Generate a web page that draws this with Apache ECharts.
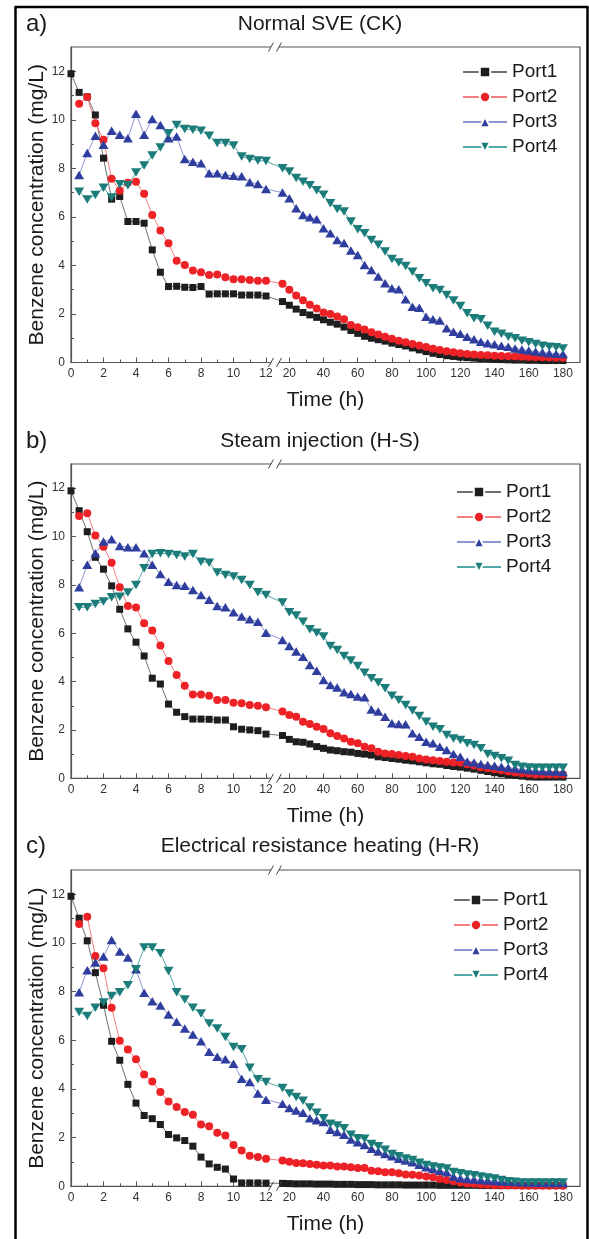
<!DOCTYPE html>
<html>
<head>
<meta charset="utf-8">
<script src="https://cdn.jsdelivr.net/npm/echarts@6/dist/echarts.min.js"></script>
<style>
html,body{margin:0;padding:0;background:#fff;}
#c{width:589px;height:1239px;}
</style>
</head>
<body>
<div id="c"></div>
<script>
// ---------------- data ----------------
const TIME_LEFT = [0,0.5,1,1.5,2,2.5,3,3.5,4,4.5,5,5.5,6,6.5,7,7.5,8,8.5,9,9.5,10,10.5,11,11.5,12];
const TIME_RIGHT = [16,20,24,28,32,36,40,44,48,52,56,60,64,68,72,76,80,84,88,92,96,100,104,108,112,116,120,124,128,132,136,140,144,148,152,156,160,164,168,172,176,180];

const X_MAJOR = [0,2,4,6,8,10,12,20,40,60,80,100,120,140,160,180];
const X_MINOR = [1,3,5,7,9,11,30,50,70,90,110,130,150,170];
const Y_MAJOR = [0,2,4,6,8,10,12];
const Y_MINOR = [1,3,5,7,9,11];

const PORTS = ['Port1','Port2','Port3','Port4'];
const PANEL_LABELS = ['a)','b)','c)'];
const PANEL_TITLES = ['Normal SVE (CK)','Steam injection (H-S)','Electrical resistance heating (H-R)'];
const X_NAME = 'Time (h)';
const Y_NAME = 'Benzene concentration (mg/L)';

// Panel a) Normal SVE (CK)
const A_P1_L = [11.9,11.13,10.95,10.2,8.42,6.73,6.84,5.81,5.81,5.74,4.64,3.72,3.13,3.14,3.10,3.09,3.13,2.82,2.83,2.83,2.83,2.78,2.78,2.78,2.74];
const A_P1_R = [2.51,2.36,2.2,2.06,1.96,1.86,1.76,1.66,1.58,1.46,1.32,1.2,1.08,1.0,0.94,0.88,0.8,0.74,0.68,0.6,0.52,0.45,0.38,0.33,0.28,0.25,0.22,0.2,0.18,0.16,0.15,0.13,0.12,0.11,0.1,0.1,0.09,0.09,0.08,0.08,0.08,0.08];
const A_P2_L = [null,10.66,10.94,9.86,9.18,7.57,7.08,7.41,7.45,6.95,6.08,5.44,4.91,4.19,4.02,3.79,3.72,3.61,3.63,3.51,3.43,3.43,3.40,3.37,3.37];
const A_P2_R = [3.24,3.0,2.76,2.56,2.38,2.22,2.06,2.0,1.9,1.78,1.55,1.45,1.36,1.25,1.15,1.06,0.98,0.9,0.83,0.76,0.7,0.64,0.57,0.52,0.46,0.42,0.38,0.35,0.33,0.31,0.3,0.28,0.27,0.26,0.25,0.24,0.23,0.22,0.22,0.21,0.2,0.2];
const A_P3_L = [null,7.73,8.63,9.34,8.97,9.55,9.38,9.24,10.25,9.38,10.03,9.79,9.24,9.31,8.38,8.27,8.21,7.8,7.8,7.73,7.69,7.67,7.43,7.36,7.15];
const A_P3_R = [7.0,6.77,6.36,6.08,5.99,5.9,5.53,5.33,5.05,4.92,4.61,4.43,4.02,3.81,3.54,3.27,3.06,3.02,2.61,2.3,2.26,1.89,1.78,1.73,1.41,1.27,1.18,1.06,0.96,0.86,0.79,0.75,0.69,0.65,0.58,0.54,0.49,0.45,0.42,0.38,0.36,0.35];
const A_P4_L = [null,7.04,6.72,6.9,7.2,6.8,7.34,7.3,7.83,8.12,8.53,8.86,9.45,9.79,9.62,9.59,9.55,9.34,9.04,9.04,8.94,8.49,8.39,8.32,8.3];
const A_P4_R = [8.0,7.87,7.6,7.45,7.3,7.1,6.91,6.56,6.32,6.22,5.81,5.49,5.33,5.05,4.85,4.57,4.26,4.12,3.98,3.74,3.47,3.27,3.06,2.99,2.78,2.55,2.33,2.03,1.82,1.78,1.51,1.27,1.18,1.06,1.0,0.9,0.83,0.76,0.69,0.65,0.63,0.58];

// Panel b) Steam injection (H-S)
const B_P1_L = [11.89,11.07,10.2,9.14,8.65,7.96,6.99,6.18,5.63,5.06,4.14,3.9,3.07,2.73,2.55,2.45,2.45,2.44,2.41,2.41,2.13,2.03,2.0,1.97,1.83];
const B_P1_R = [1.77,1.61,1.51,1.49,1.42,1.31,1.24,1.17,1.14,1.1,1.08,1.03,1.0,0.96,0.89,0.86,0.82,0.79,0.75,0.72,0.68,0.64,0.6,0.58,0.53,0.49,0.46,0.42,0.38,0.33,0.28,0.23,0.19,0.15,0.12,0.09,0.06,0.05,0.05,0.05,0.05,0.05];
const B_P2_L = [null,10.85,10.96,10.04,9.58,8.92,7.9,7.13,7.06,6.41,6.11,5.49,4.85,4.27,3.83,3.47,3.47,3.41,3.24,3.24,3.13,3.1,3.03,3.0,2.94];
const B_P2_R = [2.76,2.62,2.55,2.34,2.25,2.13,2.04,1.86,1.75,1.65,1.51,1.45,1.31,1.24,1.1,1.03,1.0,0.96,0.92,0.89,0.82,0.78,0.75,0.72,0.68,0.65,0.64,0.58,0.53,0.46,0.42,0.37,0.33,0.28,0.24,0.21,0.19,0.16,0.16,0.16,0.16,0.16];
const B_P3_L = [null,7.9,8.83,9.31,9.79,9.89,9.61,9.56,9.56,9.31,8.83,8.45,8.13,8.0,7.96,7.79,7.58,7.38,7.13,7.07,6.87,6.69,6.58,6.48,6.02];
const B_P3_R = [5.72,5.47,5.24,5.03,4.69,4.45,4.07,3.86,3.76,3.56,3.49,3.38,3.35,2.85,2.76,2.55,2.28,2.25,2.24,1.86,1.72,1.51,1.45,1.31,1.17,1.0,0.89,0.69,0.65,0.59,0.55,0.52,0.48,0.44,0.41,0.37,0.34,0.32,0.3,0.29,0.28,0.26];
const B_P4_L = [null,7.07,7.07,7.21,7.31,7.49,7.51,7.68,8.0,8.69,9.28,9.31,9.28,9.24,9.17,9.28,8.96,8.92,8.51,8.41,8.35,8.2,8.0,7.7,7.58];
const B_P4_R = [7.27,6.87,6.73,6.48,6.16,6.02,5.86,5.47,5.31,5.06,4.87,4.65,4.37,4.14,3.96,3.72,3.41,3.24,3.03,2.8,2.58,2.34,2.13,2.03,1.79,1.65,1.58,1.45,1.38,1.24,1.0,0.92,0.83,0.73,0.55,0.48,0.45,0.44,0.44,0.44,0.44,0.44];

// Panel c) Electrical resistance heating (H-R)
const C_P1_L = [11.92,11.02,10.09,8.78,7.44,5.96,5.18,4.19,3.42,2.91,2.78,2.54,2.13,1.99,1.88,1.65,1.2,0.92,0.78,0.71,0.3,0.14,0.14,0.14,0.13];
const C_P1_R = [0.12,0.11,0.1,0.1,0.1,0.09,0.09,0.09,0.08,0.08,0.08,0.07,0.07,0.07,0.06,0.06,0.06,0.06,0.05,0.05,0.05,0.05,0.05,0.04,0.04,0.04,0.04,0.04,0.04,0.03,0.03,0.03,0.03,0.03,0.03,0.03,0.03,0.03,0.03,0.03,0.03,0.03];
const C_P2_L = [null,10.78,11.08,9.47,8.96,7.34,5.98,5.62,5.22,4.59,4.31,3.88,3.49,3.26,3.05,2.94,2.54,2.47,2.2,2.09,1.7,1.47,1.26,1.2,1.13];
const C_P2_R = [1.06,1.01,0.96,0.95,0.92,0.89,0.85,0.85,0.81,0.81,0.78,0.75,0.75,0.64,0.62,0.58,0.58,0.54,0.48,0.47,0.44,0.4,0.37,0.3,0.26,0.21,0.16,0.12,0.1,0.07,0.06,0.04,0.03,0.03,0.03,0.02,0.02,0.02,0.02,0.02,0.02,0.02];
const C_P3_L = [null,7.98,8.88,9.2,9.44,10.12,9.65,9.4,8.92,7.96,7.61,7.43,7.06,6.76,6.49,6.24,5.96,5.53,5.32,5.22,5.04,4.42,4.29,3.81,3.56];
const C_P3_R = [3.39,3.22,3.12,3.02,2.8,2.71,2.64,2.32,2.23,2.12,1.92,1.81,1.7,1.54,1.43,1.33,1.24,1.13,1.06,0.99,0.89,0.78,0.71,0.64,0.58,0.4,0.33,0.3,0.28,0.26,0.24,0.22,0.2,0.19,0.18,0.17,0.16,0.15,0.15,0.14,0.14,0.14];
const C_P4_L = [null,7.16,7.0,7.34,7.55,7.82,7.98,8.26,8.92,9.81,9.81,9.58,8.85,7.98,7.68,7.34,7.1,6.69,6.49,6.14,5.73,5.63,4.87,4.4,4.29];
const C_P4_R = [4.04,3.81,3.67,3.52,3.24,3.02,2.8,2.57,2.5,2.39,2.12,1.98,1.95,1.74,1.65,1.5,1.33,1.24,1.14,1.08,0.97,0.88,0.81,0.77,0.73,0.59,0.54,0.49,0.45,0.4,0.36,0.32,0.26,0.21,0.19,0.16,0.16,0.16,0.16,0.16,0.16,0.16];

const PANEL_DATA = [
  [[A_P1_L,A_P1_R],[A_P2_L,A_P2_R],[A_P3_L,A_P3_R],[A_P4_L,A_P4_R]],
  [[B_P1_L,B_P1_R],[B_P2_L,B_P2_R],[B_P3_L,B_P3_R],[B_P4_L,B_P4_R]],
  [[C_P1_L,C_P1_R],[C_P2_L,C_P2_R],[C_P3_L,C_P3_R],[C_P4_L,C_P4_R]]
];

// ---------------- broken time scale ----------------
// left segment (0-12 h) keeps its own unit; right segment (20-180 h) is compressed
const LEFT_LIMIT = 12.5;
const RIGHT_AT_20 = 13.434;
const RIGHT_RATIO = 0.10523;
const AXIS_MAX = 31.32;
const BREAK_POS = 12.55;
function toAxis(t){ return t <= LEFT_LIMIT ? t : RIGHT_AT_20 + (t - 20) * RIGHT_RATIO; }
function fromAxis(u){ return u <= LEFT_LIMIT ? u : 20 + (u - RIGHT_AT_20) / RIGHT_RATIO; }

// ---------------- styles ----------------
const FONT = '"Liberation Sans", Arial, Helvetica, sans-serif';
const MARK_COLORS = ['#1e1e1e','#ec2226','#2f3e9e','#1b7c7a'];
const LINE_COLORS = ['#707070','#f07f7f','#8d96d0','#52a9a6'];
const SYMBOLS = ['rect','circle','triangle','triangle'];
const SYMBOL_SIZES = [7,8,[10,8.5],[10,8.5]];
const SYMBOL_ROT = [0,0,0,180];
const AXIS_COLOR = '#555';

const GRIDS = [
  {top:47, height:315.5, legendTop:62.5, legendLeft:462, titleY:24},
  {top:464, height:314.3, legendTop:482.5, legendLeft:456, titleY:441},
  {top:870, height:316.3, legendTop:890.5, legendLeft:453, titleY:846}
];

const chart = echarts.init(document.getElementById('c'), null, {renderer:'canvas'});

const option = {
  animation:false,
  backgroundColor:'#fff',
  textStyle:{fontFamily:FONT},
  title:[], grid:[], xAxis:[], yAxis:[], legend:[], series:[]
};

GRIDS.forEach((g, i) => {
  option.grid.push({
    left:71, right:9, top:g.top, height:g.height,
    show:true, borderColor:AXIS_COLOR, borderWidth:1.2, backgroundColor:'transparent',
    containLabel:false, outerBoundsMode:'none'
  });
  option.title.push({
    text:PANEL_LABELS[i], left:26, top:g.titleY, padding:0,
    textAlign:'left', textVerticalAlign:'middle',
    textStyle:{fontFamily:FONT, fontSize:24, fontWeight:'normal', color:'#1a1a1a'}
  });
  option.title.push({
    text:PANEL_TITLES[i], left:320, top:g.titleY, padding:0,
    textAlign:'center', textVerticalAlign:'middle',
    textStyle:{fontFamily:FONT, fontSize:21, fontWeight:'normal', color:'#1a1a1a'}
  });
  // main x axis
  option.xAxis.push({
    gridIndex:i, type:'value', min:0, max:AXIS_MAX, position:'bottom',
    axisLine:{show:true, onZero:false, lineStyle:{color:AXIS_COLOR, width:1.2}},
    axisTick:{show:true, inside:true, length:5, customValues:X_MAJOR.map(toAxis), lineStyle:{color:AXIS_COLOR, width:1}},
    axisLabel:{show:true, customValues:X_MAJOR.map(toAxis), margin:5, fontSize:12, color:'#333', fontFamily:FONT,
      formatter:v => String(Math.round(fromAxis(v)))},
    splitLine:{show:false},
    name:X_NAME, nameLocation:'middle', nameGap:27, nameMoveOverlap:false,
    nameTextStyle:{fontSize:21, color:'#1a1a1a', fontFamily:FONT}
  });
  // minor x ticks
  option.xAxis.push({
    gridIndex:i, type:'value', min:0, max:AXIS_MAX, position:'bottom',
    axisLine:{show:false}, axisLabel:{show:false}, splitLine:{show:false},
    axisTick:{show:true, inside:true, length:3, customValues:X_MINOR.map(toAxis), lineStyle:{color:AXIS_COLOR, width:1}}
  });
  // main y axis
  option.yAxis.push({
    gridIndex:i, type:'value', min:0, max:13, position:'left',
    axisLine:{show:true, onZero:false, lineStyle:{color:AXIS_COLOR, width:1.2}},
    axisTick:{show:true, inside:true, length:5, customValues:Y_MAJOR, lineStyle:{color:AXIS_COLOR, width:1}},
    axisLabel:{show:true, customValues:Y_MAJOR, margin:6, fontSize:12, color:'#333', fontFamily:FONT},
    splitLine:{show:false},
    name:Y_NAME, nameLocation:'middle', nameGap:23, nameMoveOverlap:false,
    nameTextStyle:{fontSize:21, color:'#1a1a1a', fontFamily:FONT}
  });
  // minor y ticks
  option.yAxis.push({
    gridIndex:i, type:'value', min:0, max:13, position:'left',
    axisLine:{show:false}, axisLabel:{show:false}, splitLine:{show:false},
    axisTick:{show:true, inside:true, length:3, customValues:Y_MINOR, lineStyle:{color:AXIS_COLOR, width:1}}
  });
  option.legend.push({
    orient:'vertical', left:g.legendLeft, top:g.legendTop, padding:0,
    itemWidth:44, itemHeight:13, itemGap:6, selectedMode:false,
    data:PORTS,
    itemStyle:{borderColor:'#fff', borderWidth:2},
    textStyle:{fontSize:19, lineHeight:19, color:'#1a1a1a', fontFamily:FONT}
  });
  PANEL_DATA[i].forEach((pair, k) => {
    const pts = [];
    TIME_LEFT.forEach((t, j) => { if (pair[0][j] != null) pts.push([toAxis(t), pair[0][j]]); });
    TIME_RIGHT.forEach((t, j) => { if (pair[1][j] != null) pts.push([toAxis(t), pair[1][j]]); });
    option.series.push({
      type:'line', name:PORTS[k], xAxisIndex:2*i, yAxisIndex:2*i,
      data:pts, symbol:SYMBOLS[k], symbolSize:SYMBOL_SIZES[k], symbolRotate:SYMBOL_ROT[k],
      showSymbol:true, showAllSymbol:true, silent:true,
      lineStyle:{color:LINE_COLORS[k], width:1},
      itemStyle:{color:MARK_COLORS[k]},
      emphasis:{disabled:true}
    });
  });
});

chart.setOption(option);

// decorations: axis-break marks and outer frame
const graphics = [];
GRIDS.forEach((g, i) => {
  const cx = chart.convertToPixel({xAxisIndex:2*i}, BREAK_POS);
  const yTop = chart.convertToPixel({yAxisIndex:2*i}, 13);
  const yBot = chart.convertToPixel({yAxisIndex:2*i}, 0);
  [yTop, yBot].forEach(y => {
    graphics.push({type:'rect', z:100, shape:{x:cx-4, y:y-1.8, width:8, height:3.6}, style:{fill:'#fff'}});
    graphics.push({type:'line', z:101, shape:{x1:cx-6.5, y1:y+4.5, x2:cx-1.5, y2:y-4.5}, style:{stroke:'#444', lineWidth:1}});
    graphics.push({type:'line', z:101, shape:{x1:cx+1.5, y1:y+4.5, x2:cx+6.5, y2:y-4.5}, style:{stroke:'#444', lineWidth:1}});
  });
});
graphics.push({type:'line', z:100, shape:{x1:15.5, y1:7, x2:15.5, y2:1239}, style:{stroke:'#000', lineWidth:2.5}});
graphics.push({type:'line', z:100, shape:{x1:14.5, y1:7, x2:588.5, y2:7}, style:{stroke:'#000', lineWidth:2.5}});
graphics.push({type:'line', z:100, shape:{x1:587.5, y1:7, x2:587.5, y2:1239}, style:{stroke:'#000', lineWidth:2.5}});
chart.setOption({graphic:graphics});
</script>
</body>
</html>
